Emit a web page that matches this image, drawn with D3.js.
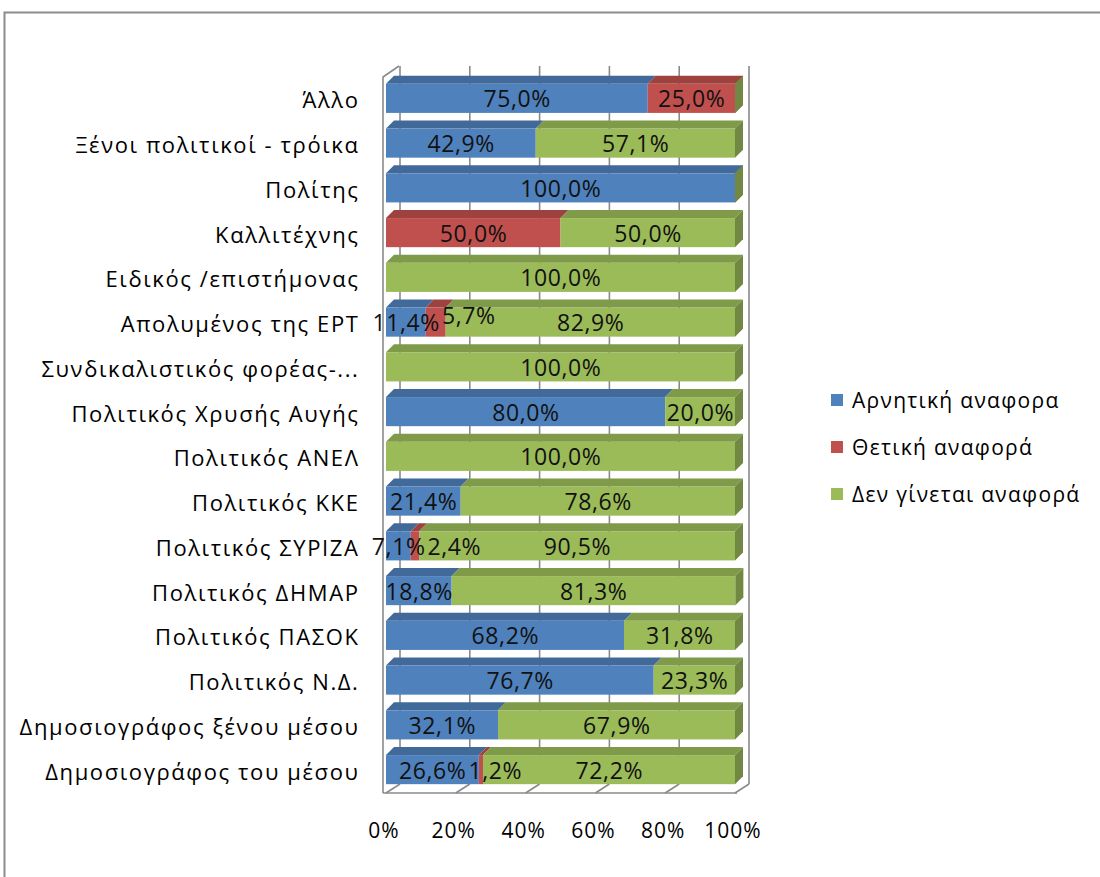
<!DOCTYPE html>
<html><head><meta charset="utf-8">
<script src="https://cdn.jsdelivr.net/npm/d3@7"></script>
<style>body{margin:0;background:#fff;}svg{display:block;}</style>
</head><body><svg id="c" width="1100" height="877"></svg>
<script>
const categories = ["Άλλο","Ξένοι πολιτικοί - τρόικα","Πολίτης","Καλλιτέχνης","Ειδικός /επιστήμονας","Απολυμένος της ΕΡΤ","Συνδικαλιστικός φορέας-...","Πολιτικός Χρυσής Αυγής","Πολιτικός ΑΝΕΛ","Πολιτικός ΚΚΕ","Πολιτικός ΣΥΡΙΖΑ","Πολιτικός ΔΗΜΑΡ","Πολιτικός ΠΑΣΟΚ","Πολιτικός Ν.Δ.","Δημοσιογράφος ξένου μέσου","Δημοσιογράφος του μέσου"];
const negative = [75.0,42.9,100.0,0,0,11.4,0,80.0,0,21.4,7.1,18.8,68.2,76.7,32.1,26.6];
const positive = [25.0,0,0,50.0,0,5.7,0,0,0,0,2.4,0,0,0,0,1.2];
const noMention = [0,57.1,0,50.0,100.0,82.9,100.0,20.0,100.0,78.6,90.5,81.3,31.8,23.3,67.9,72.2];
const seriesNames = ["Αρνητική αναφορα","Θετική αναφορά","Δεν γίνεται αναφορά"];
const seriesColors = ["#4F81BD","#C0504D","#9BBB59"];
const tickValues = [0,20,40,60,80,100];
const tickLabels = ["0%","20%","40%","60%","80%","100%"];

const svg = d3.select("#c");
const FONT = "'Open Sans', sans-serif";
const keys = ["neg","pos","none"];
const rows = categories.map((c,i)=>({cat:c,neg:negative[i],pos:positive[i],none:noMention[i]}));
const stacked = d3.stack().keys(keys)(rows);

const x = d3.scaleLinear().domain([0,100]).range([386,735]);
const y = d3.scaleBand().domain(categories).range([76,792]).paddingInner(0.35).paddingOuter(0.175);
const bdx = 8, bdy = -8;     // bar depth
const wdx = 14, wdy = -9;    // wall depth
const floorFront = 793, wallTop = 66;

// outer frame
svg.append("rect").attr("x",4.5).attr("y",12.5).attr("width",1200).attr("height",1000)
  .attr("fill","none").attr("stroke","#8c8c8c").attr("stroke-width",2);

const wall = svg.append("g").attr("stroke","#8a8a8a").attr("stroke-width",1.6).attr("fill","none");
tickValues.forEach(t=>{
  wall.append("line").attr("x1",x(t)+wdx).attr("x2",x(t)+wdx).attr("y1",wallTop).attr("y2",floorFront+wdy);
  wall.append("line").attr("x1",x(t)+wdx).attr("y1",floorFront+wdy).attr("x2",x(t)).attr("y2",floorFront);
});
wall.append("line").attr("x1",x(0)-3).attr("x2",x(100)+2).attr("y1",floorFront).attr("y2",floorFront);
wall.append("path").attr("d",`M${x(0)-3},${floorFront} L${x(0)-3},${wallTop+11} L${x(0)+wdx-1},${wallTop}`);

// bars
const g = svg.append("g");
categories.forEach((c,i)=>{
  stacked.forEach((s,k)=>{
    const d = s[i];
    const x0 = x(d[0]), x1 = x(d[1]);
    const yt = y(c), yb = y(c)+y.bandwidth();
    const col = d3.color(seriesColors[k]);
    if (d[1]-d[0] > 0) {
      g.append("rect").attr("x",x0).attr("y",yt).attr("width",x1-x0).attr("height",yb-yt).attr("fill",col);
      g.append("path").attr("d",`M${x0},${yt} L${x0+bdx},${yt+bdy} L${x1+bdx},${yt+bdy} L${x1},${yt} Z`)
        .attr("fill",col.darker(0.55));
    }
    if (d[1] >= 100 - 1e-9) {
      g.append("path").attr("d",`M${x1},${yt} L${x1+bdx},${yt+bdy} L${x1+bdx},${yb+bdy} L${x1},${yb} Z`)
        .attr("fill",col.darker(0.9));
    }
  });
});

// data labels with simple collision avoidance
const LS = 0.6;
const lab = svg.append("g").attr("font-family",FONT).attr("font-size",23).attr("letter-spacing",LS).attr("fill","#111");
categories.forEach((c,i)=>{
  let prevRight = -Infinity;
  stacked.forEach((s,k)=>{
    const d = s[i];
    const v = d[1]-d[0];
    if (v <= 0) return;
    const txt = v.toFixed(1).replace(".",",")+"%";
    const t = lab.append("text").attr("text-anchor","middle").attr("dominant-baseline","central").text(txt);
    const w = t.node().getComputedTextLength();
    let cx = (x(d[0])+x(d[1]))/2;
    let cy = y(c)+y.bandwidth()/2;
    if (cx - w/2 < prevRight + 2) { cx = prevRight + 2 + w/2; if (k===1 && v>5) cy -= 7; }
    t.attr("x",cx+LS/2).attr("y",cy);
    prevRight = cx + w/2;
  });
});

// category labels
svg.append("g").attr("font-family",FONT).attr("font-size",22).attr("letter-spacing",1.6).attr("fill","#000")
  .selectAll("text").data(categories).join("text")
  .attr("x",359.5).attr("y",d=>y(d)+y.bandwidth()/2+1).attr("text-anchor","end").attr("dominant-baseline","central")
  .text(d=>d);

// x tick labels
svg.append("g").attr("font-family",FONT).attr("font-size",21).attr("letter-spacing",1).attr("fill","#000")
  .selectAll("text").data(tickValues).join("text")
  .attr("x",(d)=>x(d)-2).attr("y",830).attr("text-anchor","middle").attr("dominant-baseline","central")
  .text((d,i)=>tickLabels[i]);

// legend
const leg = svg.append("g").attr("font-family",FONT).attr("font-size",21).attr("letter-spacing",1.3);
seriesNames.forEach((n,k)=>{
  const cy = 400 + k*47;
  leg.append("rect").attr("x",831).attr("y",cy-6).attr("width",12).attr("height",12).attr("fill",seriesColors[k]);
  leg.append("text").attr("x",852).attr("y",cy).attr("dominant-baseline","central").attr("fill","#000").text(n);
});
</script></body></html>
